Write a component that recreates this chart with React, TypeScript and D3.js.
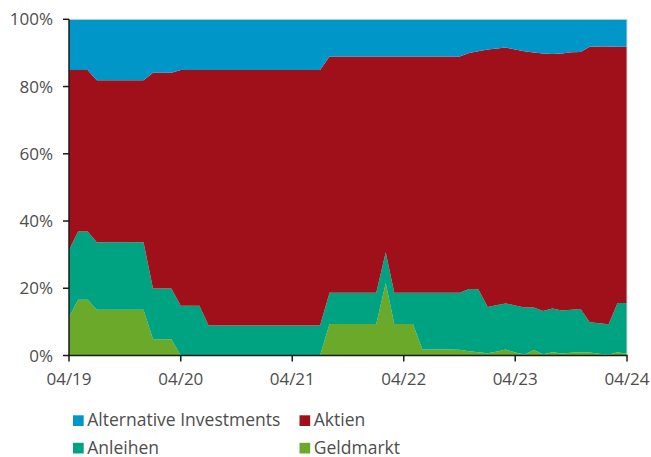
import React from "react";
import * as d3 from "d3";

// Monthly observations 04/2019 .. 04/2024 (61 points), shares in %
const seriesNames = ["Geldmarkt", "Anleihen", "Aktien", "Alternative Investments"];
const seriesColors = ["#6aa92a", "#00a381", "#a0101a", "#0097c8"];

const geldmarkt = [
  11.4, 16.6, 16.6, 13.6, 13.6, 13.6, 13.6, 13.6, 13.6, 4.8, 4.8, 4.8,
  0, 0, 0, 0, 0, 0, 0, 0, 0, 0, 0, 0,
  0, 0, 0, 0, 9.4, 9.4, 9.4, 9.4, 9.4, 9.4, 21.5, 9.4,
  9.4, 9.4, 1.8, 1.8, 1.8, 1.8, 1.7, 1.3, 1.0, 0.7, 1.2, 1.8,
  0.9, 0.3, 1.6, 0.4, 1.0, 0.6, 0.8, 1.0, 0.9, 0.5, 0.2, 1.0,
  0.5,
];
const anleihen = [
  20.0, 20.3, 20.3, 20.1, 20.1, 20.1, 20.1, 20.1, 20.1, 15.1, 15.1, 15.1,
  14.8, 14.8, 14.8, 8.9, 8.9, 8.9, 8.9, 8.9, 8.9, 8.9, 8.9, 8.9,
  8.9, 8.9, 8.9, 8.9, 9.3, 9.3, 9.3, 9.3, 9.3, 9.3, 9.2, 9.3,
  9.3, 9.3, 16.9, 16.9, 16.9, 16.9, 17.0, 18.5, 18.7, 13.7, 13.8, 13.7,
  14.0, 14.0, 12.7, 12.8, 13.0, 12.8, 12.8, 12.8, 9.0, 9.1, 9.1, 14.6,
  15.1,
];
const aktien = [
  53.5, 48.0, 48.0, 48.2, 48.2, 48.2, 48.2, 48.2, 48.2, 64.2, 64.2, 64.2,
  70.1, 70.1, 70.1, 76.0, 76.0, 76.0, 76.0, 76.0, 76.0, 76.0, 76.0, 76.0,
  76.0, 76.0, 76.0, 76.0, 70.2, 70.2, 70.2, 70.2, 70.2, 70.2, 58.2, 70.2,
  70.2, 70.2, 70.2, 70.2, 70.2, 70.2, 70.2, 70.2, 70.8, 76.6, 76.3, 76.1,
  76.1, 76.2, 75.8, 76.6, 75.7, 76.4, 76.6, 76.5, 81.9, 82.3, 82.6, 76.2,
  76.2,
];
const alternative = [
  15.1, 15.1, 15.1, 18.1, 18.1, 18.1, 18.1, 18.1, 18.1, 15.9, 15.9, 15.9,
  15.1, 15.1, 15.1, 15.1, 15.1, 15.1, 15.1, 15.1, 15.1, 15.1, 15.1, 15.1,
  15.1, 15.1, 15.1, 15.1, 11.1, 11.1, 11.1, 11.1, 11.1, 11.1, 11.1, 11.1,
  11.1, 11.1, 11.1, 11.1, 11.1, 11.1, 11.1, 10.0, 9.5, 9.0, 8.7, 8.4,
  9.0, 9.5, 9.9, 10.2, 10.3, 10.2, 9.8, 9.7, 8.2, 8.1, 8.1, 8.2,
  8.2,
];
const yTicks = [0, 0.2, 0.4, 0.6, 0.8, 1.0];
const xTickYears = [2019, 2020, 2021, 2022, 2023, 2024];

const W = 651;
const H = 457;
const M = { left: 69, right: 627, top: 19.3, bottom: 355.5 };
const FONT = "'Open Sans', sans-serif";
const TEXT = "#4d4d4d";

export default function App() {
  const dates = geldmarkt.map((_, i) => new Date(2019, 3 + i, 1));
  const seriesArrays = [geldmarkt, anleihen, aktien, alternative];
  const rows = dates.map((d, i) => {
    const r: any = { date: d };
    seriesNames.forEach((n, k) => (r[n] = seriesArrays[k][i]));
    return r;
  });
  const stack = d3.stack().keys(seriesNames).offset(d3.stackOffsetExpand);
  const layers = stack(rows as any);

  const x = d3
    .scaleTime()
    .domain([dates[0], dates[dates.length - 1]])
    .range([M.left, M.right]);
  const y = d3.scaleLinear().domain([0, 1]).range([M.bottom, M.top]);

  const area = d3
    .area<any>()
    .x((d) => x(d.data.date))
    .y0((d) => y(d[0]))
    .y1((d) => y(d[1]));

  const pct = d3.format(".0%");
  const fmt = d3.timeFormat("%m/%y");

  const legend = [
    { name: "Alternative Investments", color: seriesColors[3], lx: 73, ly: 426 },
    { name: "Aktien", color: seriesColors[2], lx: 299.5, ly: 426 },
    { name: "Anleihen", color: seriesColors[1], lx: 73, ly: 453.5 },
    { name: "Geldmarkt", color: seriesColors[0], lx: 299.5, ly: 453.5 },
  ];

  return (
    <svg
      width={W}
      height={H}
      style={{ position: "absolute", left: 0, top: 0, background: "#fff" }}
      fontFamily={FONT}
    >
      {layers.map((layer, k) => (
        <path key={k} d={area(layer as any) || ""} fill={seriesColors[k]} />
      ))}
      <line x1={M.left} x2={M.right} y1={M.top} y2={M.top} stroke="#d4d4d4" strokeWidth={1} />
      <line x1={M.right} x2={M.right} y1={M.top} y2={M.bottom} stroke="#d4d4d4" strokeWidth={1} />
      {/* y axis */}
      <line x1={M.left} x2={M.left} y1={M.top} y2={M.bottom + 0.7} stroke="#1a1a1a" strokeWidth={1.5} />
      {yTicks.map((t) => (
        <g key={t}>
          <line x1={M.left - 6} x2={M.left} y1={y(t)} y2={y(t)} stroke="#1a1a1a" strokeWidth={1.5} />
          <text x={53} y={y(t)} dy="0.36em" textAnchor="end" fontSize={17} fill={TEXT}>
            {pct(t)}
          </text>
        </g>
      ))}
      {/* x axis */}
      <line x1={M.left - 0.7} x2={M.right + 0.7} y1={M.bottom} y2={M.bottom} stroke="#1a1a1a" strokeWidth={1.5} />
      {xTickYears.map((yr) => {
        const d = new Date(yr, 3, 1);
        return (
          <g key={yr}>
            <line x1={x(d)} x2={x(d)} y1={M.bottom} y2={M.bottom + 6} stroke="#1a1a1a" strokeWidth={1.5} />
            <text x={x(d)} y={385} textAnchor="middle" fontSize={17} fill={TEXT}>
              {fmt(d)}
            </text>
          </g>
        );
      })}
      {/* legend */}
      {legend.map((l) => (
        <g key={l.name}>
          <rect x={l.lx} y={l.ly - 10.7} width={10.7} height={10.7} fill={l.color} />
          <text x={l.lx + 14.3} y={l.ly} fontSize={17.5} fill={TEXT}>
            {l.name}
          </text>
        </g>
      ))}
    </svg>
  );
}
